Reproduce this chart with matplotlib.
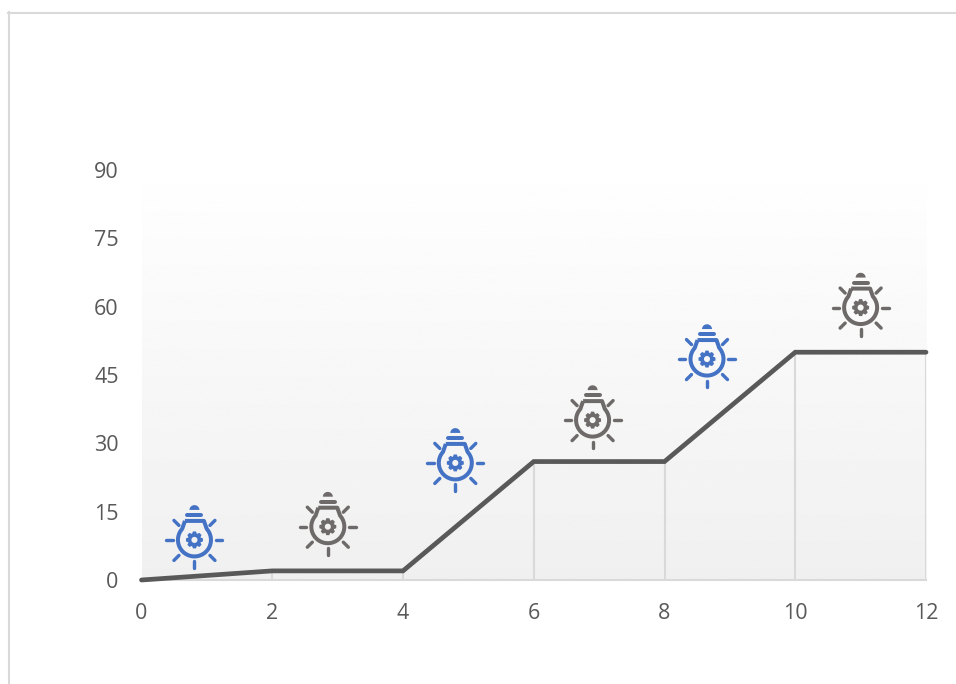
import numpy as np
import matplotlib
matplotlib.use("Agg")
import matplotlib.pyplot as plt
from matplotlib.lines import Line2D
from matplotlib.patches import PathPatch
from matplotlib.path import Path
from matplotlib.transforms import Affine2D, ScaledTranslation

plt.rcParams["font.family"] = ["Open Sans", "DejaVu Sans"]

x_vals = [0, 2, 4, 6, 8, 10, 12]
y_vals = [0, 2, 2, 26, 26, 50, 50]
y_ticks = [0, 15, 30, 45, 60, 75, 90]

icon_x = [0.81, 2.85, 4.8, 6.9, 8.65, 11.0]
icon_y = [8.8, 11.7, 25.7, 35.1, 48.5, 59.8]
icon_colors = ["#4472c4", "#6e6a69", "#4472c4", "#6e6a69", "#4472c4", "#6e6a69"]

GREY = "#595959"
LIGHT = "#d9d9d9"

W, H = 956, 684
fig = plt.figure(figsize=(W / 100, H / 100), dpi=100, facecolor="white")
ax = fig.add_axes([141.5 / W, (H - 580) / H, 784.5 / W, 410 / H])
ax.set_xlim(0, 12)
ax.set_ylim(0, 90)

# background fades from white at the top to light grey at the axis
grad = np.linspace(0.94, 0.998, 256).reshape(-1, 1)
ax.imshow(grad, extent=(0, 12, 0, 90), origin="lower", aspect="auto",
          cmap="gray", vmin=0, vmax=1, zorder=0)

ax.vlines(x_vals[1:], 0, y_vals[1:], color=LIGHT, lw=1.5, zorder=1)
ax.plot(x_vals, y_vals, color=GREY, lw=3.4, solid_joinstyle="miter",
        solid_capstyle="round", zorder=3, clip_on=False)

for name in ["top", "left", "right"]:
    ax.spines[name].set_visible(False)
ax.spines["bottom"].set_color(LIGHT)
ax.spines["bottom"].set_linewidth(1.5)
ax.set_xticks(x_vals)
ax.set_yticks(y_ticks)
ax.tick_params(axis="x", length=0, pad=16.5, labelsize=15.5, labelcolor=GREY)
ax.tick_params(axis="y", length=0, pad=16.5, labelsize=15.5, labelcolor=GREY)

# outer frame, only the left and top edges are visible
fig.add_artist(Line2D([8.5 / W, 8.5 / W], [0, (H - 12) / H], color=LIGHT, lw=1.5))
fig.add_artist(Line2D([8 / W, 1], [(H - 12.5) / H] * 2, color=LIGHT, lw=1.5))


def gear_path(r_out, r_in, r_hole, teeth=8):
    verts, codes = [], []
    for i in range(teeth):
        a = 2 * np.pi * i / teeth
        w = np.pi / teeth
        for ang, r in [(a - w * 0.95, r_in), (a - w * 0.45, r_out),
                       (a + w * 0.45, r_out), (a + w * 0.95, r_in)]:
            verts.append((r * np.cos(ang), r * np.sin(ang)))
            codes.append(Path.LINETO)
    codes[0] = Path.MOVETO
    verts.append(verts[0])
    codes.append(Path.CLOSEPOLY)
    hole = Path.circle((0, 0), r_hole)
    return Path(verts + list(hole.vertices[::-1]),
                codes + list(hole.codes))


def bulb_path(r):
    # outline: flat neck at the top, sides running into the round glass
    ang = np.linspace(np.radians(42), np.radians(138 - 360), 60)
    verts = [(-9.5, 19), (9.5, 19)]
    verts += [(r * np.cos(a), r * np.sin(a)) for a in ang]
    verts.append((-9.5, 19))
    codes = [Path.MOVETO] + [Path.LINETO] * (len(verts) - 1)
    return Path(verts, codes)


def cap_path():
    ang = np.linspace(0, np.pi, 20)
    verts = [(5 * np.cos(a), 30 + 4.8 * np.sin(a)) for a in ang]
    verts.append(verts[0])
    return Path(verts, [Path.MOVETO] + [Path.LINETO] * 19 + [Path.CLOSEPOLY])


RAYS = [((21.5, 0), (28, 0)), ((-21.5, 0), (-28, 0)), ((0, -21.5), (0, -28)),
        ((15.5, 14.5), (20.5, 19.5)), ((-15.5, 14.5), (-20.5, 19.5)),
        ((15.5, -15.5), (20.5, -20.5)), ((-15.5, -15.5), (-20.5, -20.5))]


def draw_icon(xd, yd, color):
    # icon geometry is in pixels around the anchor point
    tr = Affine2D() + ScaledTranslation(xd, yd, ax.transData)
    kw = dict(transform=tr, zorder=4, clip_on=False)
    px = 0.72
    for p0, p1 in RAYS:
        ax.add_line(Line2D([p0[0], p1[0]], [p0[1], p1[1]], color=color,
                           lw=3.4 * px, solid_capstyle="round", **kw))
    ax.add_patch(PathPatch(bulb_path(16.5), fc="none", ec=color, lw=4.0 * px,
                           joinstyle="round", **kw))
    ax.add_line(Line2D([-7, 7], [25, 25], color=color, lw=4.0 * px,
                       solid_capstyle="round", **kw))
    ax.add_patch(PathPatch(cap_path(), fc=color, ec="none", **kw))
    ax.add_patch(PathPatch(gear_path(8.6, 6.6, 3.0), fc=color, ec="none", **kw))


for xd, yd, c in zip(icon_x, icon_y, icon_colors):
    draw_icon(xd, yd, c)

fig.savefig("out.png", dpi=100)
